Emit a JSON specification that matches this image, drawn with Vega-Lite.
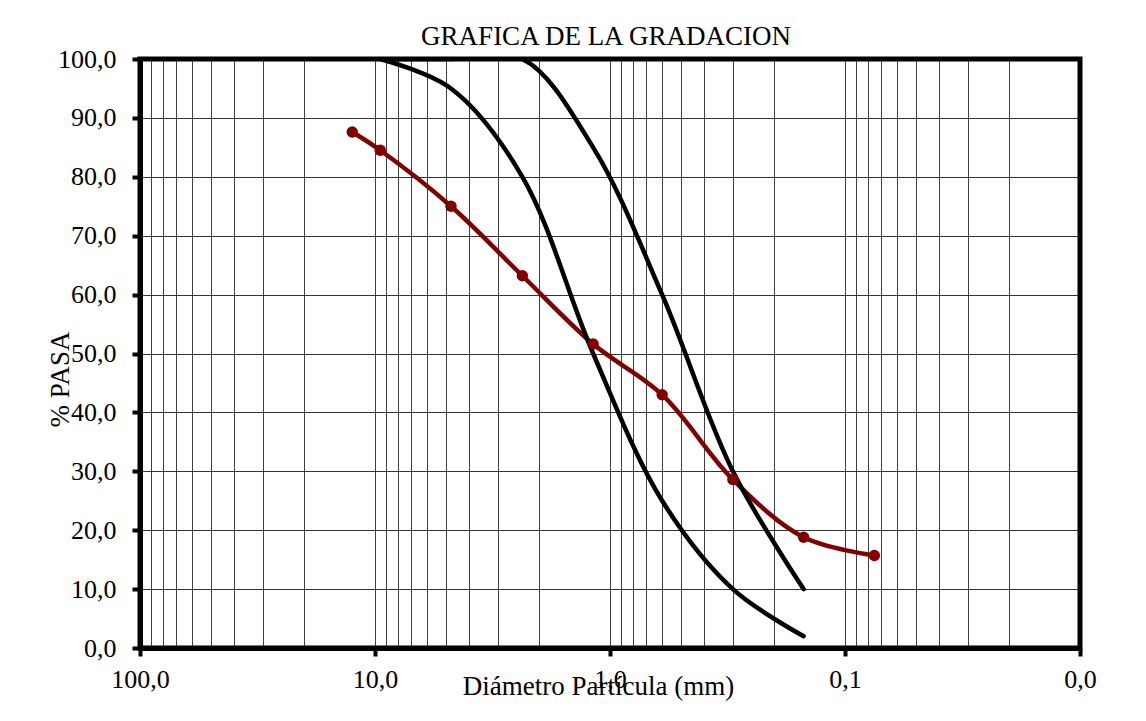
{
  "$schema": "https://vega.github.io/schema/vega-lite/v6.json",
  "width": 940,
  "height": 589,
  "autosize": {"type": "none"},
  "padding": {"left": 140, "top": 59, "right": 66, "bottom": 73},
  "background": "white",
  "title": {"text": "GRAFICA DE LA GRADACION", "font": "Liberation Serif", "fontSize": 27, "fontWeight": "normal", "color": "black", "anchor": "middle", "offset": 10, "dx": -4, "dy": 15},
  "data": {"values": [
    {"d": 12.5, "p": 87.6, "s": "muestra"},
    {"d": 9.5, "p": 84.5, "s": "muestra"},
    {"d": 4.75, "p": 75.0, "s": "muestra"},
    {"d": 2.36, "p": 63.2, "s": "muestra"},
    {"d": 1.18, "p": 51.6, "s": "muestra"},
    {"d": 0.6, "p": 43.0, "s": "muestra"},
    {"d": 0.3, "p": 28.6, "s": "muestra"},
    {"d": 0.15, "p": 18.8, "s": "muestra"},
    {"d": 0.075, "p": 15.7, "s": "muestra"},
    {"d": 9.5, "p": 100, "s": "lim_inf"},
    {"d": 4.75, "p": 95, "s": "lim_inf"},
    {"d": 2.36, "p": 80, "s": "lim_inf"},
    {"d": 1.18, "p": 50, "s": "lim_inf"},
    {"d": 0.6, "p": 25, "s": "lim_inf"},
    {"d": 0.3, "p": 10, "s": "lim_inf"},
    {"d": 0.15, "p": 2, "s": "lim_inf"},
    {"d": 9.5, "p": 100, "s": "lim_sup"},
    {"d": 4.75, "p": 100, "s": "lim_sup"},
    {"d": 2.36, "p": 100, "s": "lim_sup"},
    {"d": 1.18, "p": 85, "s": "lim_sup"},
    {"d": 0.6, "p": 60, "s": "lim_sup"},
    {"d": 0.3, "p": 30, "s": "lim_sup"},
    {"d": 0.15, "p": 10, "s": "lim_sup"}
  ]},
  "layer": [
    {
      "mark": {"type": "line", "interpolate": "catmull-rom", "strokeWidth": 4.5, "strokeCap": "round", "clip": true},
      "encoding": {
        "x": {"field": "d", "type": "quantitative",
          "scale": {"type": "log", "domain": [0.01, 100], "reverse": true, "nice": false},
          "axis": {
            "values": [0.01, 0.02, 0.03, 0.04, 0.05, 0.06, 0.07, 0.08, 0.09, 0.1, 0.2, 0.3, 0.4, 0.5, 0.6, 0.7, 0.8, 0.9, 1, 2, 3, 4, 5, 6, 7, 8, 9, 10, 20, 30, 40, 50, 60, 70, 80, 90, 100],
            "grid": true, "gridColor": "#000000", "gridWidth": 1, "gridOpacity": 0.75,
            "domain": true, "domainColor": "black", "domainWidth": 5,
            "ticks": true, "tickColor": "black", "tickWidth": 4, "tickSize": 8,
            "tickOpacity": {"condition": {"test": "abs(log(datum.value)/LN10 - round(log(datum.value)/LN10)) < 0.001", "value": 1}, "value": 0},
            "labelExpr": "abs(log(datum.value)/LN10 - round(log(datum.value)/LN10)) < 0.001 ? replace(format(datum.value, '.1f'), '.', ',') : ''",
            "labelFont": "Liberation Serif", "labelFontSize": 26, "labelColor": "black", "labelPadding": 10, "labelFlush": false, "labelOverlap": false,
            "title": "Diámetro Partícula (mm)", "titleFont": "Liberation Serif", "titleFontSize": 27, "titleFontWeight": "normal", "titleColor": "black",
            "titleX": 458, "titleY": 46, "titleBaseline": "alphabetic", "titleAlign": "center"
          }
        },
        "y": {"field": "p", "type": "quantitative",
          "scale": {"domain": [0, 100], "nice": false},
          "axis": {
            "values": [0, 10, 20, 30, 40, 50, 60, 70, 80, 90, 100],
            "grid": true, "gridColor": "#000000", "gridWidth": 1, "gridOpacity": 0.8,
            "domain": true, "domainColor": "black", "domainWidth": 5,
            "ticks": true, "tickColor": "black", "tickWidth": 4, "tickSize": 8,
            "labelExpr": "replace(format(datum.value, '.1f'), '.', ',')",
            "labelFont": "Liberation Serif", "labelFontSize": 26, "labelColor": "black", "labelPadding": 16, "labelFlush": false, "labelOverlap": false,
            "title": "% PASA", "titleFont": "Liberation Serif", "titleFontSize": 27, "titleFontWeight": "normal", "titleColor": "black",
            "titleX": -72, "titleY": 320, "titleBaseline": "alphabetic", "titleAlign": "center", "titleAngle": -90
          }
        },
        "color": {"field": "s", "type": "nominal", "scale": {"domain": ["muestra", "lim_inf", "lim_sup"], "range": ["#800000", "#000000", "#000000"]}, "legend": null}
      }
    },
    {
      "transform": [{"filter": "datum.s == 'muestra'"}],
      "mark": {"type": "circle", "size": 130, "opacity": 1, "color": "#800000"},
      "encoding": {
        "x": {"field": "d", "type": "quantitative"},
        "y": {"field": "p", "type": "quantitative"}
      }
    }
  ],
  "config": {"view": {"stroke": "black", "strokeWidth": 5}}
}
